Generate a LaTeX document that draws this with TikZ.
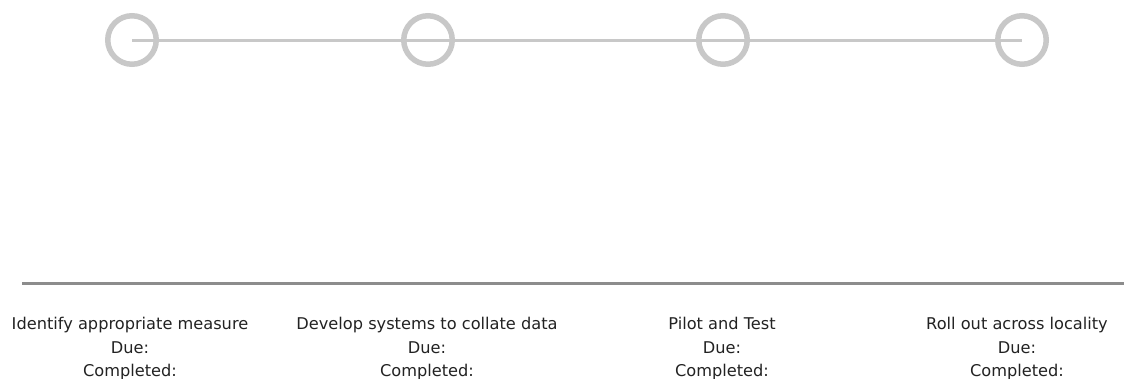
\documentclass[tikz,border=0pt]{standalone}
\usepackage{fontspec}
\setmainfont{DejaVu Sans}
\definecolor{ringgray}{HTML}{C8C8C8}
\definecolor{rulegray}{HTML}{8C8C8C}
\definecolor{txt}{HTML}{222222}
\begin{document}
\begin{tikzpicture}[x=1pt,y=-1pt,
  ring/.style={circle,draw=ringgray,line width=5.5pt,minimum size=48.5pt,inner sep=0pt},
  track/.style={draw=ringgray,line width=3pt},
  baseline rule/.style={draw=rulegray,line width=3pt},
  label/.style={align=center,anchor=north,inner sep=0pt,text=txt,
    font=\fontsize{16.2pt}{23.5pt}\selectfont}]
\useasboundingbox (0,0) rectangle (1124,378);
\coordinate (c1) at (132,40);
\coordinate (c4) at (1022,40);
\draw[track] (c1) -- (c4);
\node[ring] (r1) at (c1) {};
\node[ring] (r2) at (428,40) {};
\node[ring] (r3) at (723,40) {};
\node[ring] (r4) at (c4) {};
\coordinate (L) at (22,283);
\coordinate (R) at (1124,283);
\draw[baseline rule] (L) -- (R);
\node[label] (t1) at (130,317) {Identify appropriate measure\\Due:\\Completed:};
\node[label] (t2) at (427,317) {Develop systems to collate data\\Due:\\Completed:};
\node[label] (t3) at (722,317) {Pilot and Test\\Due:\\Completed:};
\node[label] (t4) at (1017,317) {Roll out across locality\\Due:\\Completed:};
\end{tikzpicture}
\end{document}
